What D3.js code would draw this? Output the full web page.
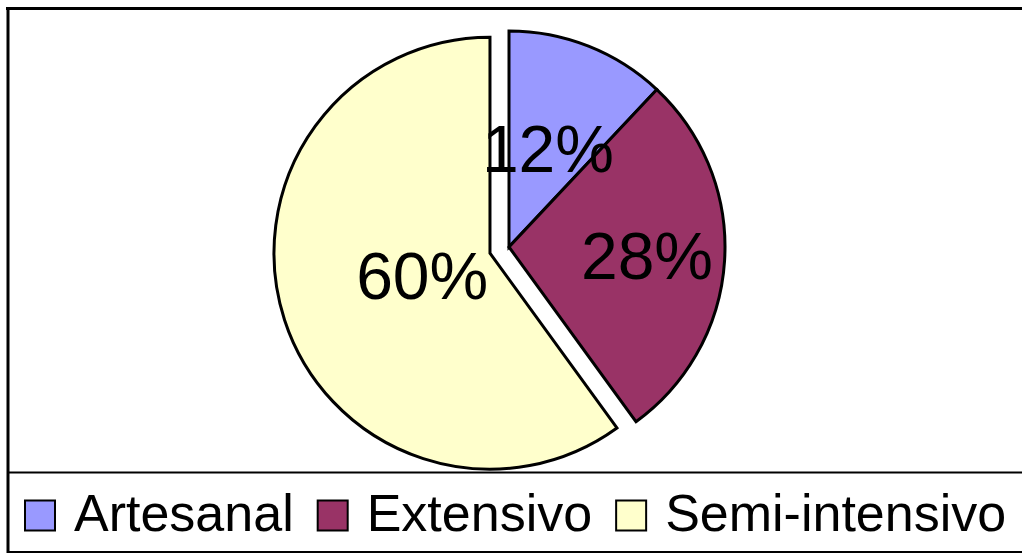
<!DOCTYPE html>
<html>
<head>
<meta charset="utf-8">
<script src="https://cdn.jsdelivr.net/npm/d3@7/dist/d3.min.js"></script>
<style>
  html, body { margin: 0; padding: 0; background: #fff; }
  svg { display: block; }
  text { font-family: "Liberation Sans", Arial, sans-serif; fill: #000; }
</style>
</head>
<body>
<svg id="chart" width="1022" height="554"></svg>
<script>
// Production systems and their share (%)
const categories = ["Artesanal", "Extensivo", "Semi-intensivo"];
const shares = [12, 28, 60];
const sliceColors = ["#9999FF", "#993366", "#FFFFCC"];
const explodedSlice = [false, false, true];
// radial position of each percentage label, as a fraction of the radius
const labelRadius = [0.49, 0.64, 0.33];

const W = 1022, H = 554;
const svg = d3.select("#chart");

const cx = 509, cy = 247, R = 216, explodeDist = 20;

const pie = d3.pie().sort(null).value(d => d)(shares);
const arc = d3.arc().innerRadius(0).outerRadius(R);

const g = svg.append("g").attr("transform", `translate(${cx},${cy})`);

function offset(d, i) {
  if (!explodedSlice[i]) return [0, 0];
  const a = (d.startAngle + d.endAngle) / 2;
  return [Math.sin(a) * explodeDist, -Math.cos(a) * explodeDist];
}

// slices
g.append("g").selectAll("path").data(pie).join("path")
  .attr("transform", (d, i) => { const o = offset(d, i); return `translate(${o[0]},${o[1]})`; })
  .attr("d", arc)
  .attr("fill", (d, i) => sliceColors[i])
  .attr("stroke", "#000")
  .attr("stroke-width", 3)
  .attr("stroke-linejoin", "miter");

// percentage labels, drawn above every slice
g.append("g").selectAll("text").data(pie).join("text")
  .attr("transform", (d, i) => {
    const a = (d.startAngle + d.endAngle) / 2;
    const r = R * labelRadius[i];
    const o = offset(d, i);
    return `translate(${Math.sin(a) * r + o[0]},${-Math.cos(a) * r + o[1]})`;
  })
  .attr("text-anchor", "middle")
  .attr("dy", "0.36em")
  .style("font-size", "66px")
  .text((d, i) => shares[i] + "%");

// chart frame
svg.append("line").attr("x1", 6).attr("x2", W).attr("y1", 8.5).attr("y2", 8.5)
  .attr("stroke", "#000").attr("stroke-width", 3);
svg.append("line").attr("x1", 8).attr("x2", 8).attr("y1", 7).attr("y2", 553)
  .attr("stroke", "#000").attr("stroke-width", 3);

// legend box
svg.append("line").attr("x1", 8).attr("x2", W).attr("y1", 472.5).attr("y2", 472.5)
  .attr("stroke", "#000").attr("stroke-width", 2);
svg.append("line").attr("x1", 8).attr("x2", W).attr("y1", 552).attr("y2", 552)
  .attr("stroke", "#000").attr("stroke-width", 2);

const legend = svg.append("g");
let lx = 25;
categories.forEach((name, i) => {
  legend.append("rect")
    .attr("x", lx).attr("y", 500.5)
    .attr("width", 30).attr("height", 30)
    .attr("fill", sliceColors[i])
    .attr("stroke", "#000").attr("stroke-width", 2);
  const t = legend.append("text")
    .attr("x", lx + 49).attr("y", 531)
    .style("font-size", "52px")
    .text(name);
  lx += 49 + t.node().getComputedTextLength() + 24;
});
</script>
</body>
</html>
